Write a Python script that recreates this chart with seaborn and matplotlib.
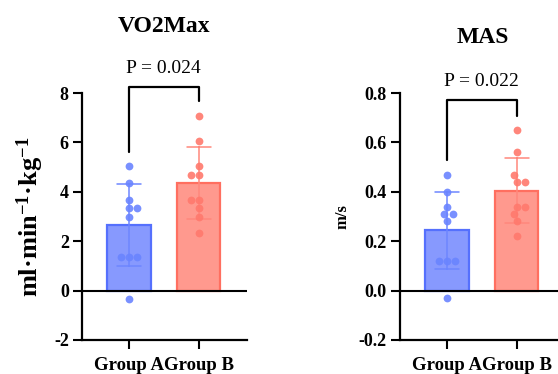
import matplotlib
matplotlib.use("Agg")
import matplotlib.pyplot as plt
import seaborn as sns
import pandas as pd

# values
groups = ["Group A", "Group B"]
vo2_a = [5.05, 4.35, 3.68, 3.35, 3.35, 3.0, 1.35, 1.35, 1.35, -0.33]
vo2_b = [7.05, 6.05, 5.03, 4.7, 4.7, 3.67, 3.67, 3.35, 3.0, 2.35]
mas_a = [0.47, 0.40, 0.34, 0.31, 0.31, 0.28, 0.12, 0.12, 0.12, -0.03]
mas_b = [0.65, 0.56, 0.47, 0.44, 0.44, 0.34, 0.34, 0.31, 0.28, 0.22]
vo2_ticks = [-2, 0, 2, 4, 6, 8]
mas_ticks = [-0.2, 0.0, 0.2, 0.4, 0.6, 0.8]

sns.set_theme(style="ticks")
plt.rcParams["font.family"] = ["Liberation Serif", "DejaVu Serif"]
plt.rcParams["mathtext.fontset"] = "custom"
plt.rcParams["mathtext.rm"] = "Liberation Serif:bold"
plt.rcParams["mathtext.it"] = "Liberation Serif:bold"
plt.rcParams["mathtext.bf"] = "Liberation Serif:bold"
plt.rcParams["mathtext.default"] = "rm"
for key in ["text.color", "axes.labelcolor", "xtick.color", "ytick.color"]:
    plt.rcParams[key] = "black"

styles = {
    "Group A": dict(face="#8799fe", edge="#5570fd", dot="#6a84ff", err="#6d86ff"),
    "Group B": dict(face="#ff998e", edge="#ff6f60", dot="#ff796d", err="#ff887c"),
}

fig = plt.figure(figsize=(5.58, 3.74), dpi=100)


def panel(ax, a_vals, b_vals, ticks, ylabel, ylabel_size, title, title_y, ptext, p_y, bracket):
    df = pd.DataFrame({
        "group": ["Group A"] * len(a_vals) + ["Group B"] * len(b_vals),
        "value": a_vals + b_vals,
    })
    for g in groups:
        sub = df[df["group"] == g]
        st = styles[g]
        sns.barplot(data=sub, x="group", y="value", order=groups, ax=ax,
                    errorbar="sd", capsize=0.34, width=0.62, saturation=1,
                    color=st["face"],
                    err_kws={"color": st["err"], "linewidth": 1.1})
    for patch, g in zip(ax.patches, groups):
        patch.set_facecolor(styles[g]["face"])
        patch.set_edgecolor(styles[g]["edge"])
        patch.set_linewidth(1.6)
    for g in groups:
        sub = df[df["group"] == g]
        sns.swarmplot(data=sub, x="group", y="value", order=groups, ax=ax,
                      color=styles[g]["dot"], size=5.6, alpha=0.9, zorder=4)

    ax.axhline(0, color="black", lw=1.5, zorder=5)
    ax.set_xlim(-0.67, 1.69)
    ax.set_ylim(ticks[0], ticks[-1])
    ax.set_yticks(ticks)
    if isinstance(ticks[1], float):
        ax.set_yticklabels([f"{t:.1f}" for t in ticks])
    else:
        ax.set_yticklabels([str(t) for t in ticks])
    ax.set_xlabel("")
    ax.set_ylabel(ylabel, fontsize=ylabel_size, fontweight="bold", labelpad=6)
    sns.despine(ax=ax)
    for s in ["left", "bottom"]:
        ax.spines[s].set_linewidth(1.6)
        ax.spines[s].set_color("black")
    ax.tick_params(axis="both", length=6.5, width=1.5, color="black", direction="out")
    ax.tick_params(axis="y", labelsize=13, pad=3)
    ax.tick_params(axis="x", labelsize=13.5, pad=6)
    for lab in ax.get_xticklabels() + ax.get_yticklabels():
        lab.set_fontweight("bold")

    # significance bracket
    top, left_end, right_end = bracket
    ax.plot([0, 0, 1, 1], [left_end, top, top, right_end], color="black",
            lw=1.6, clip_on=False, zorder=6)
    ax.text(0.5, p_y, ptext, ha="center", va="center", fontsize=14)
    ax.text(0.5, title_y, title, transform=ax.transAxes, ha="center",
            va="center", fontsize=17, fontweight="bold")


ax1 = fig.add_axes([82 / 558, 34 / 374, 165 / 558, 247 / 374])
panel(ax1, vo2_a, vo2_b, vo2_ticks, r"ml·min$^{-1}$·kg$^{-1}$", 19,
      "VO2Max", 1.271, "P = 0.024", 9.0, (8.23, 5.62, 7.69))

ax2 = fig.add_axes([400 / 558, 34 / 374, 165 / 558, 247 / 374])
panel(ax2, mas_a, mas_b, mas_ticks, "m/s", 12,
      "MAS", 1.223, "P = 0.022", 0.846, (0.773, 0.53, 0.708))

fig.savefig("out.png", dpi=100)
